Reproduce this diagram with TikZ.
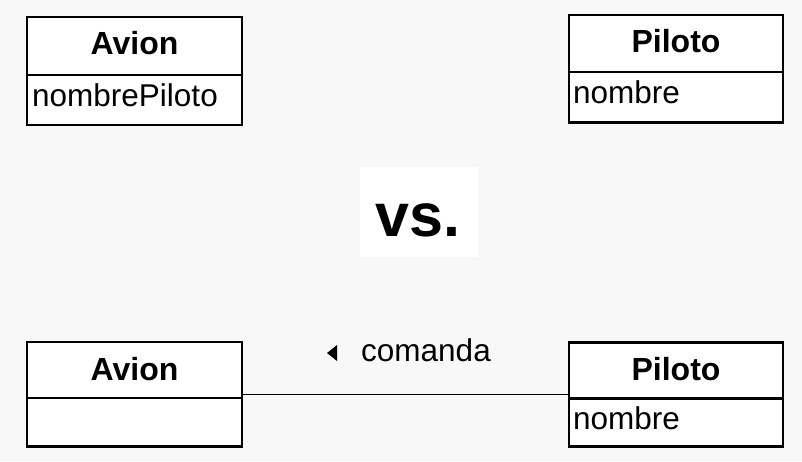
\documentclass[tikz,border=0pt]{standalone}
\usepackage{fontspec}
\setmainfont{Liberation Sans}
\definecolor{bg}{HTML}{F8F8F8}
\begin{document}
\begin{tikzpicture}[x=1pt,y=1pt,
  sect/.style={draw=black, line width=2.6pt, fill=white, inner sep=0pt},
  ttl/.style={anchor=base, inner sep=0pt, font=\fontsize{32}{38}\selectfont\bfseries},
  attr/.style={anchor=base west, inner sep=0pt, font=\fontsize{31.5}{37}\selectfont},
  conn/.style={draw=black, line width=1.8pt}]
\fill[bg] (0,0) rectangle (802,461);
\useasboundingbox (0,0) rectangle (802,461);
% top Avion
\node[sect, minimum width=215pt, minimum height=58pt] (avTt) at (134.5,415) {};
\node[sect, minimum width=215pt, minimum height=50pt] (avTa) at (134.5,361) {};
\node[ttl] (avTn) at (134.5,406) {Avion};
\node[attr] (avTat) at (32,354) {nombrePiloto};
% top Piloto
\node[sect, minimum width=214pt, minimum height=57pt] (piTt) at (676,417.5) {};
\node[sect, minimum width=214pt, minimum height=50.5pt] (piTa) at (676,363.75) {};
\node[ttl] (piTn) at (676,408) {Piloto};
\node[attr] (piTat) at (573,357) {nombre};
% vs
\node[fill=white, minimum width=118pt, minimum height=90pt, inner sep=0pt] (vsbg) at (419,249) {};
\node[anchor=base west, inner sep=0pt, font=\fontsize{61}{68}\selectfont\bfseries] (vs) at (375,225) {vs.};
% association
\coordinate (ca) at (134.5,66.5);
\coordinate (cb) at (676,66.5);
% bottom Avion
\node[sect, minimum width=215pt, minimum height=56pt] (avBt) at (134.5,91) {};
\node[sect, minimum width=215pt, minimum height=48.5pt] (avBa) at (134.5,38.75) {};
\node[ttl] (avBn) at (134.5,81) {Avion};
% bottom Piloto
\node[sect, minimum width=214pt, minimum height=56pt] (piBt) at (676,90.5) {};
\node[sect, minimum width=214pt, minimum height=48pt] (piBa) at (676,38.5) {};
\node[ttl] (piBn) at (676,81) {Piloto};
\node[attr] (piBat) at (573,32) {nombre};
\draw[conn] (avBt.east |- ca) -- (piBt.west |- cb);
\node[attr] (lbl) at (361,100) {comanda};
\coordinate (tri) at (327,108);
\fill[black] (tri) -- (337,116) -- (337,100) -- cycle;
\end{tikzpicture}
\end{document}
